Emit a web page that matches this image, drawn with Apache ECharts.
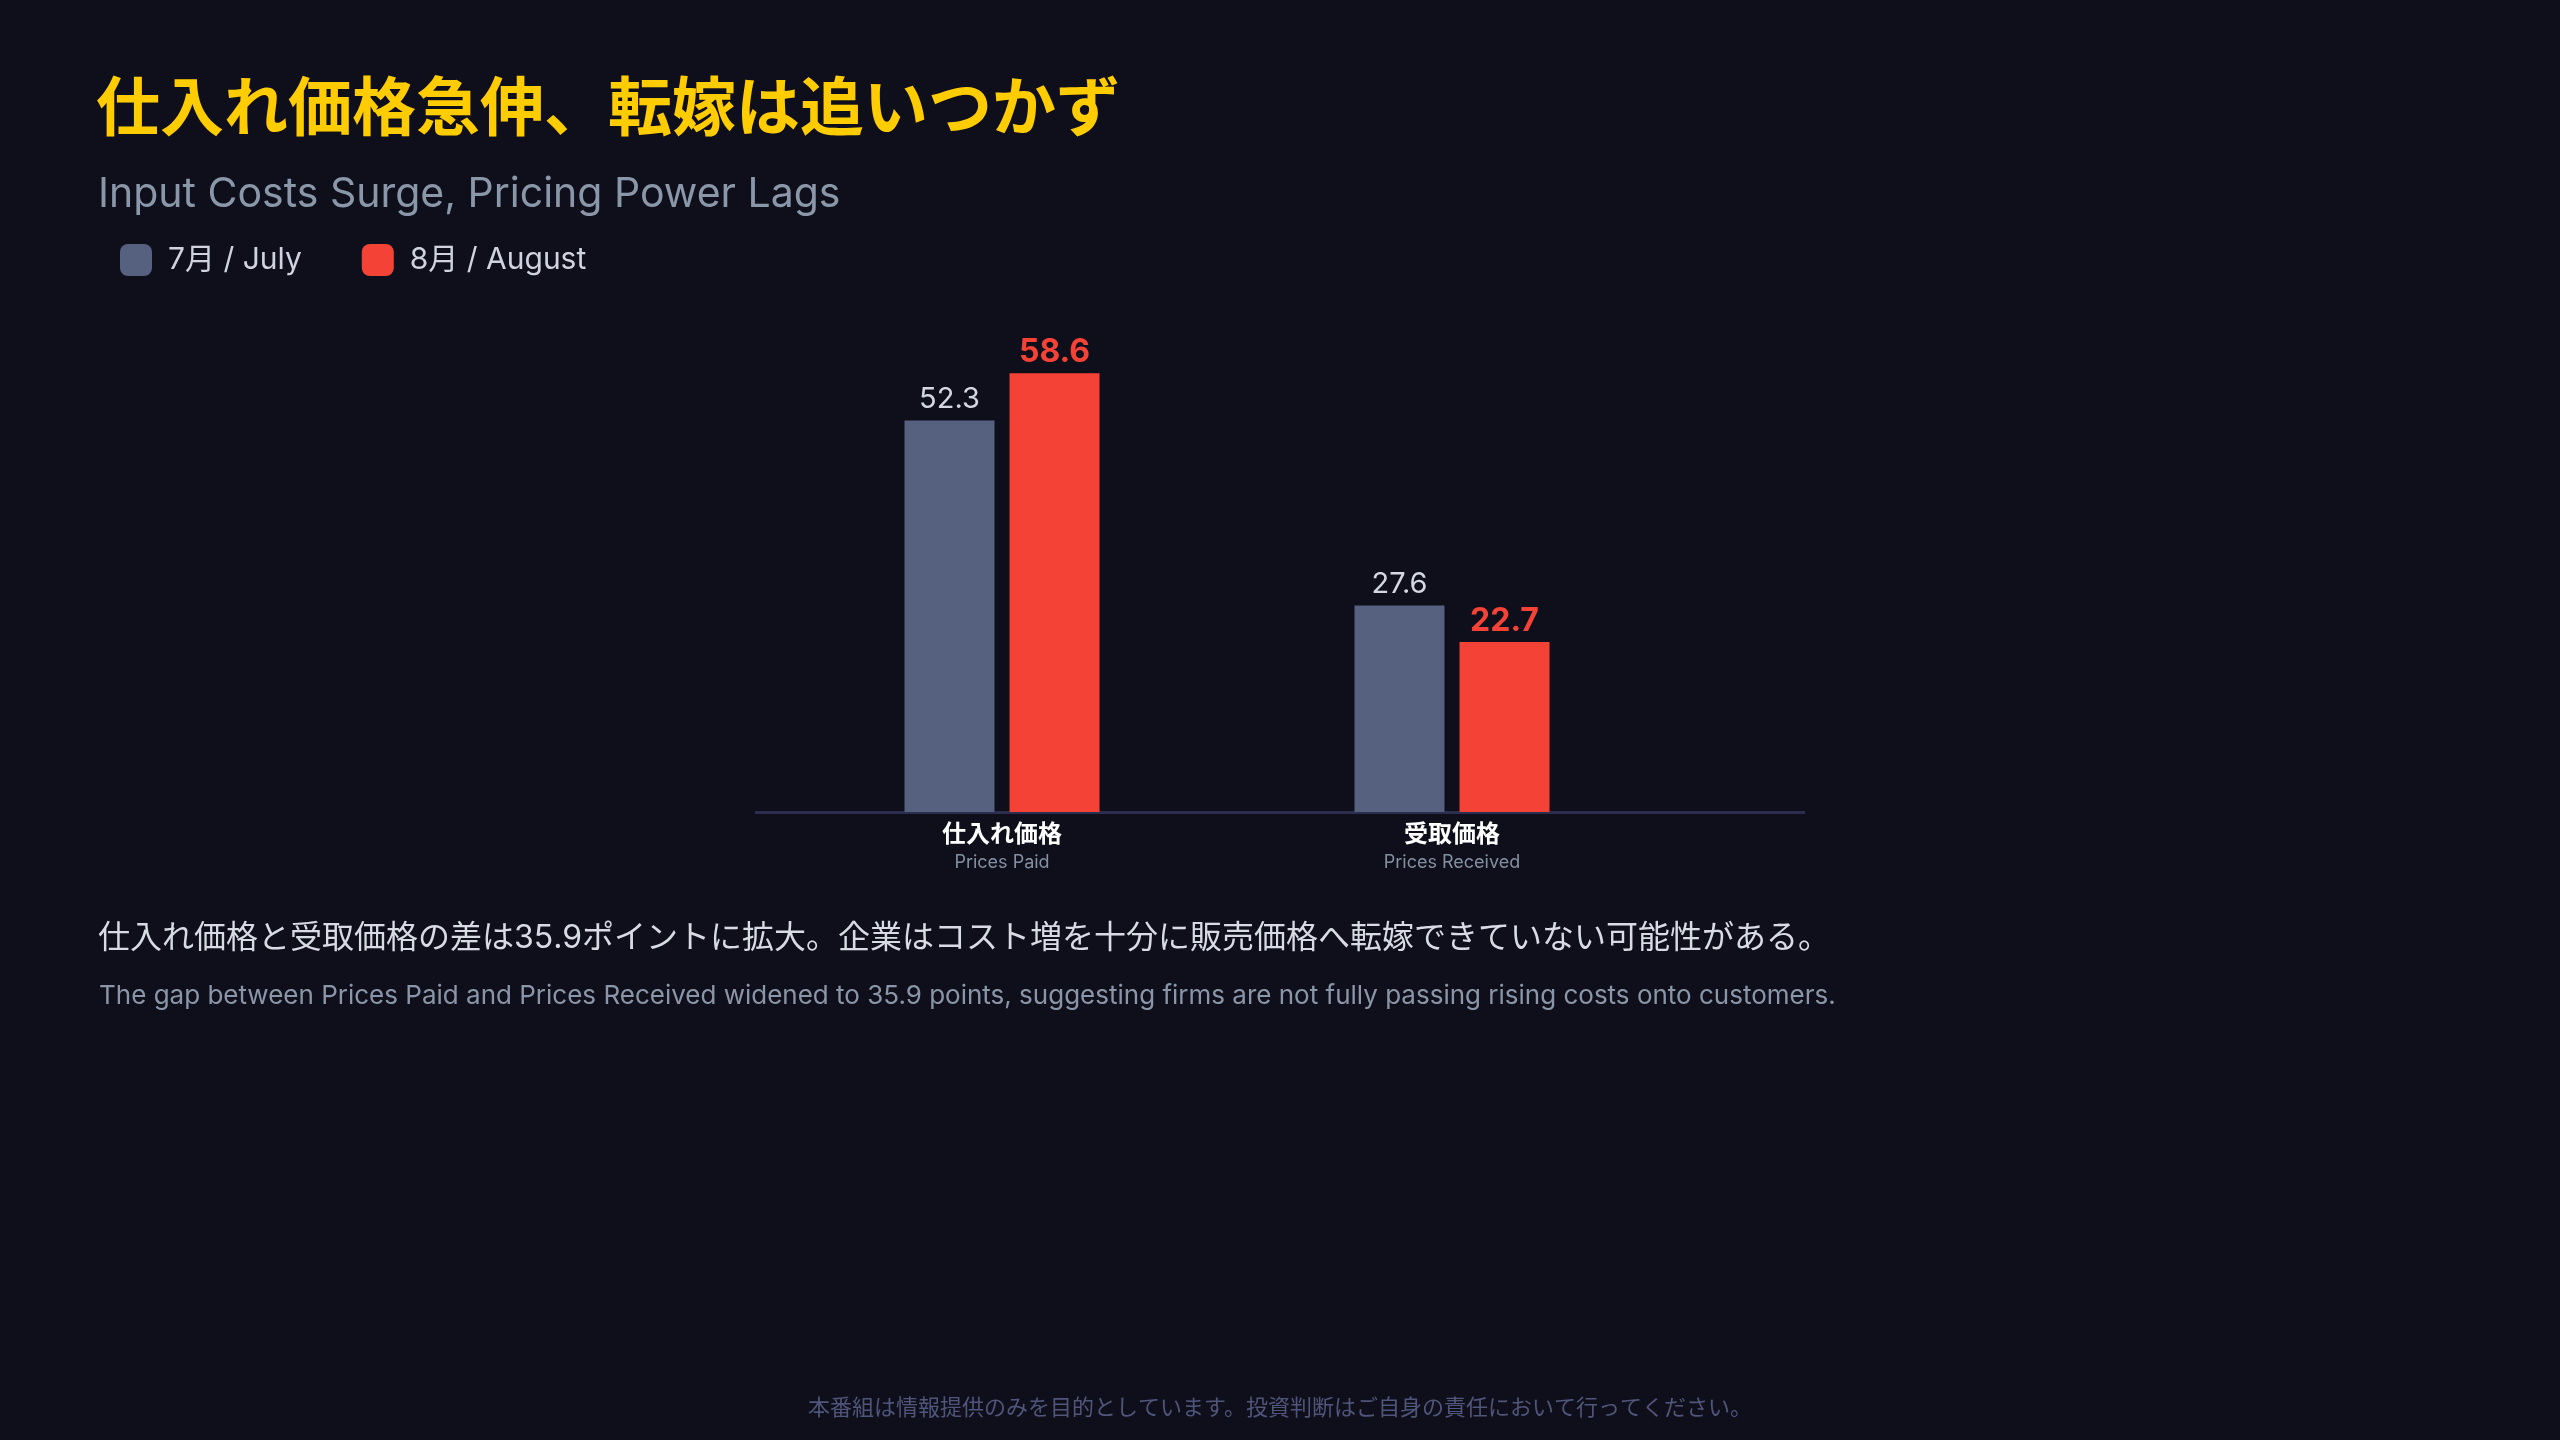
<!DOCTYPE html>
<html>
<head>
<meta charset="utf-8">
<script src="https://cdn.jsdelivr.net/npm/echarts@6/dist/echarts.min.js"></script>
<style>
  html, body { margin: 0; padding: 0; background: #0f0f1c; }
  #chart { width: 2560px; height: 1440px; }
</style>
</head>
<body>
<div id="chart"></div>
<script>
// データ
const categories = ['仕入れ価格', '受取価格'];
const categoriesEn = ['Prices Paid', 'Prices Received'];
const seriesNames = ['7月 / July', '8月 / August'];
const julyValues = [52.3, 27.6];
const augustValues = [58.6, 22.7];

const FONT = 'Inter, "Noto Sans CJK JP", sans-serif';
const JP_FONT = '"Noto Sans CJK JP", sans-serif';
const BG = '#0f0f1c';
const JULY_COLOR = '#56607f';
const AUG_COLOR = '#f44336';

const chart = echarts.init(document.getElementById('chart'));

const option = {
  backgroundColor: BG,
  textStyle: { fontFamily: FONT },
  animation: false,
  title: [
    {
      text: '仕入れ価格急伸、転嫁は追いつかず',
      left: 96, top: 74, padding: 0,
      textStyle: { color: '#ffcc00', fontSize: 64, fontWeight: 'bold', fontFamily: JP_FONT }
    },
    {
      text: 'Input Costs Surge, Pricing Power Lags',
      left: 98, top: 174, padding: 0,
      textStyle: { color: '#8a97a8', fontSize: 41, fontWeight: 'normal', fontFamily: FONT }
    },
    {
      text: '仕入れ価格と受取価格の差は35.9ポイントに拡大。企業はコスト増を十分に販売価格へ転嫁できていない可能性がある。',
      left: 98, top: 922, padding: 0,
      textStyle: { color: '#d8dae4', fontSize: 32, fontWeight: 'normal', fontFamily: FONT }
    },
    {
      text: 'The gap between Prices Paid and Prices Received widened to 35.9 points, suggesting firms are not fully passing rising costs onto customers.',
      left: 99, top: 983, padding: 0,
      textStyle: { color: '#8a96a8', fontSize: 26, fontWeight: 'normal', fontFamily: FONT }
    },
    {
      text: '本番組は情報提供のみを目的としています。投資判断はご自身の責任において行ってください。',
      left: 'center', top: 1396, padding: 0,
      textStyle: { color: '#50557a', fontSize: 22, fontWeight: 'normal', fontFamily: JP_FONT }
    }
  ],
  legend: {
    left: 120, top: 244, padding: 0,
    icon: 'roundRect',
    itemWidth: 32, itemHeight: 32,
    itemGap: 60,
    data: seriesNames,
    textStyle: { color: '#d0d3df', fontSize: 30, fontFamily: FONT, padding: [0, 0, 0, 11] }
  },
  grid: { left: 777, right: 883, top: 288, bottom: 628 },
  xAxis: {
    type: 'category',
    data: categories,
    axisLine: { show: false },
    axisTick: { show: false },
    axisLabel: {
      margin: 6,
      formatter: function (v, i) {
        return '{a|' + v + '}\n{b|' + categoriesEn[i] + '}';
      },
      rich: {
        a: { color: '#ffffff', fontSize: 24, fontWeight: 'bold', lineHeight: 30, fontFamily: JP_FONT },
        b: { color: '#8390a2', fontSize: 18, lineHeight: 29, fontFamily: FONT }
      }
    }
  },
  yAxis: {
    type: 'value', min: 0, max: 70, show: false,
    splitLine: { show: false }
  },
  graphic: [
    {
      type: 'line',
      shape: { x1: 755, y1: 812.5, x2: 1805, y2: 812.5 },
      style: { stroke: '#2c2e50', lineWidth: 3 },
      z: 1
    }
  ],
  series: [
    {
      name: seriesNames[0],
      type: 'bar',
      data: julyValues,
      barWidth: 90,
      barGap: '16.7%',
      itemStyle: { color: JULY_COLOR },
      z: 3,
      label: {
        show: true, position: 'top', distance: 7,
        color: '#d4d7e2', fontSize: 29, fontFamily: FONT,
        formatter: p => p.value.toFixed(1)
      }
    },
    {
      name: seriesNames[1],
      type: 'bar',
      data: augustValues,
      barWidth: 90,
      barGap: '16.7%',
      itemStyle: { color: AUG_COLOR },
      z: 3,
      label: {
        show: true, position: 'top', distance: 5,
        color: AUG_COLOR, fontSize: 32, fontWeight: 'bold', fontFamily: FONT,
        formatter: p => p.value.toFixed(1)
      }
    }
  ]
};

chart.setOption(option);
</script>
</body>
</html>
